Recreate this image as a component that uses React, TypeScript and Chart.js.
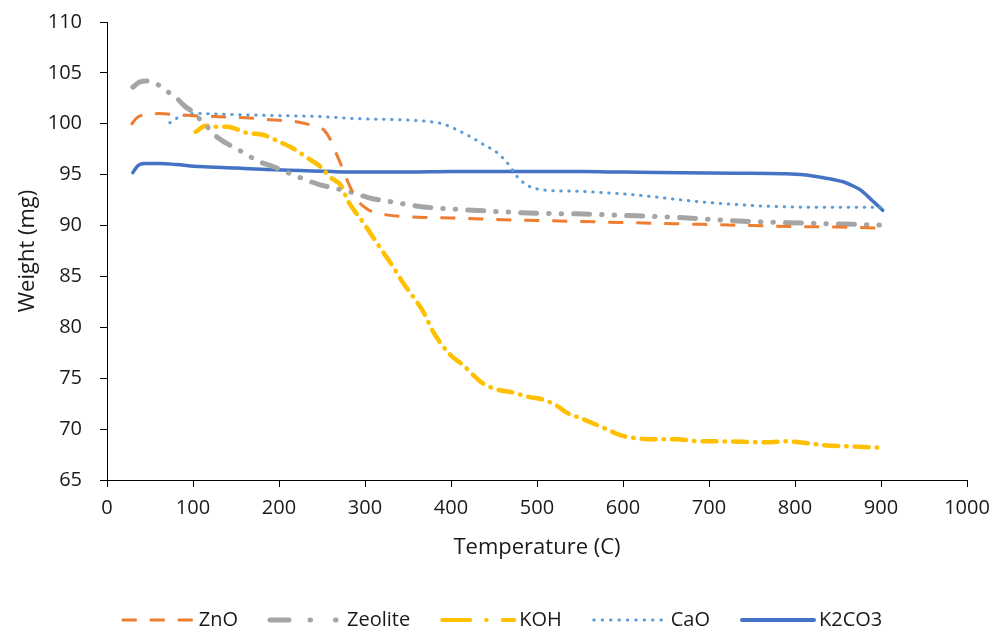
import { useEffect, useRef } from "react";
import { Chart, registerables } from "chart.js";

Chart.register(...registerables);

// ---- data ----
const SERIES_NAMES = ["ZnO", "Zeolite", "KOH", "CaO", "K2CO3"];

const ZNO_T = [28, 35, 45, 60, 80, 100, 130, 160, 190, 220, 240, 252, 260, 267, 273, 279, 285, 291, 298, 305, 314, 325, 344, 370, 400, 450, 500, 550, 600, 650, 700, 750, 800, 850, 900];
const ZNO_W = [99.9, 100.6, 100.9, 101.0, 100.9, 100.8, 100.7, 100.6, 100.4, 100.2, 99.8, 99.4, 98.4, 97.0, 95.8, 94.5, 93.4, 92.5, 91.9, 91.5, 91.25, 91.05, 90.9, 90.8, 90.75, 90.6, 90.5, 90.4, 90.3, 90.2, 90.1, 90.0, 89.9, 89.85, 89.75];

const ZEO_T = [30, 38, 45, 58, 73, 81, 91, 99, 112, 128, 147, 158, 174, 193, 216, 248, 263, 283, 306, 333, 372, 407, 460, 500, 547, 600, 663, 733, 806, 879, 900];
const ZEO_W = [103.6, 104.1, 104.2, 103.9, 103.0, 102.5, 101.7, 101.2, 100.1, 98.7, 97.7, 97.2, 96.4, 95.8, 95.0, 94.0, 93.7, 93.3, 92.7, 92.3, 91.8, 91.6, 91.35, 91.2, 91.15, 91.0, 90.8, 90.45, 90.25, 90.1, 90.05];

const KOH_T = [103, 115, 124, 140, 163, 182, 201, 216, 232, 248, 259, 274, 279, 290, 298, 309, 321, 333, 344, 356, 368, 379, 399, 414, 426, 437, 453, 472, 488, 507, 523, 535, 550, 570, 581, 597, 616, 640, 663, 690, 709, 740, 767, 791, 815, 837, 864, 895, 900];
const KOH_W = [99.2, 99.8, 99.7, 99.7, 99.1, 98.9, 98.2, 97.6, 96.7, 95.8, 94.8, 93.7, 92.6, 91.2, 90.3, 88.9, 87.4, 85.9, 84.4, 83.0, 81.5, 79.6, 77.3, 76.3, 75.3, 74.5, 73.9, 73.6, 73.2, 72.9, 72.3, 71.6, 71.1, 70.4, 70.0, 69.4, 69.1, 69.0, 69.0, 68.8, 68.8, 68.75, 68.7, 68.8, 68.6, 68.4, 68.3, 68.2, 68.2];

const CAO_T = [73, 80, 93, 110, 150, 200, 250, 291, 340, 376, 390, 399, 407, 419, 437, 453, 465, 477, 488, 500, 515, 553, 616, 670, 709, 767, 826, 900];
const CAO_W = [100.1, 100.5, 100.9, 101.0, 100.9, 100.8, 100.7, 100.5, 100.4, 100.2, 100.0, 99.7, 99.4, 98.9, 98.0, 97.2, 96.2, 94.8, 94.0, 93.6, 93.45, 93.35, 93.0, 92.5, 92.2, 91.9, 91.8, 91.8];

const K2CO3_T = [30, 34, 38, 45, 62, 80, 108, 150, 186, 225, 263, 300, 350, 400, 450, 500, 553, 600, 670, 730, 786, 810, 826, 843, 856, 866, 876, 888, 902];
const K2CO3_W = [95.2, 95.7, 96.0, 96.1, 96.1, 96.0, 95.8, 95.65, 95.5, 95.4, 95.3, 95.25, 95.25, 95.3, 95.3, 95.3, 95.3, 95.25, 95.2, 95.15, 95.1, 95.0, 94.8, 94.55, 94.3, 93.95, 93.5, 92.6, 91.5];

const X_MIN = 0, X_MAX = 1000, X_STEP = 100;
const Y_MIN = 65, Y_MAX = 110, Y_STEP = 5;
const X_TITLE = "Temperature (C)";
const Y_TITLE = "Weight (mg)";

// ---- styles ----
const COLORS = ["#ED7D31", "#A5A5A5", "#FFC000", "#5B9BD5", "#4472C4"];
const WIDTHS = [3, 5, 4.5, 3, 3.5];
const DASHES = [[15, 13], [16, 12, 0.5, 12, 0.5, 12], [14, 8, 0.5, 8], [0.5, 7.5], []];
const CAPS = ["butt", "round", "round", "round", "round"];
const LEGEND_WIDTHS = [3, 5, 4, 3, 4];
const LEGEND_DASHES = [[15, 13], [19, 21, 0.5, 25, 0.5, 30], [28, 16, 0.5, 16], [0.5, 7.9], []];
const FONT = "'Open Sans', 'Noto Sans', sans-serif";
const TEXT = "#1a1a1a";
const LEGEND_CX = 502, LEGEND_Y = 620, SAMPLE_W = 72, SAMPLE_GAP = 5, ITEM_GAP = 32;

const pts = (t: number[], w: number[]) => t.map((x, i) => ({ x, y: w[i] }));
const SERIES = [pts(ZNO_T, ZNO_W), pts(ZEO_T, ZEO_W), pts(KOH_T, KOH_W), pts(CAO_T, CAO_W), pts(K2CO3_T, K2CO3_W)];

const lineLegend = {
  id: "lineLegend",
  afterDraw(chart: any) {
    const ctx = chart.ctx as CanvasRenderingContext2D;
    ctx.save();
    ctx.font = `20px ${FONT}`;
    const labels = chart.data.datasets.map((d: any) => d.label as string);
    const tw = labels.map((l: string) => ctx.measureText(l).width);
    const total = tw.reduce((a: number, w: number) => a + SAMPLE_W + SAMPLE_GAP + w, 0) + ITEM_GAP * (labels.length - 1);
    let x = LEGEND_CX - total / 2;
    labels.forEach((label: string, i: number) => {
      ctx.beginPath();
      ctx.setLineDash(LEGEND_DASHES[i]);
      ctx.lineCap = CAPS[i] as CanvasLineCap;
      ctx.lineWidth = LEGEND_WIDTHS[i];
      ctx.strokeStyle = COLORS[i];
      ctx.moveTo(x, LEGEND_Y);
      ctx.lineTo(x + SAMPLE_W, LEGEND_Y);
      ctx.stroke();
      ctx.setLineDash([]);
      ctx.fillStyle = TEXT;
      ctx.textBaseline = "middle";
      ctx.textAlign = "left";
      ctx.fillText(label, x + SAMPLE_W + SAMPLE_GAP, LEGEND_Y);
      x += SAMPLE_W + SAMPLE_GAP + tw[i] + ITEM_GAP;
    });
    ctx.restore();
  },
};

export default function App() {
  const ref = useRef<HTMLCanvasElement | null>(null);
  useEffect(() => {
    document.body.style.margin = "0";
    const canvas = ref.current;
    if (!canvas) return;
    const chart = new Chart(canvas, {
      type: "scatter",
      data: {
        datasets: SERIES.map((data, i) => ({
          label: SERIES_NAMES[i],
          data,
          showLine: true,
          borderColor: COLORS[i],
          backgroundColor: COLORS[i],
          borderWidth: WIDTHS[i],
          borderDash: DASHES[i],
          borderCapStyle: CAPS[i] as any,
          borderJoinStyle: "round" as any,
          pointRadius: 0,
          pointHoverRadius: 0,
          cubicInterpolationMode: "monotone" as any,
        })),
      },
      options: {
        responsive: false,
        animation: false,
        events: [],
        layout: { padding: { top: 22, right: 28, bottom: 0, left: 0 } },
        plugins: {
          tooltip: { enabled: false },
          legend: { display: false },
        },
        scales: {
          x: {
            type: "linear",
            min: X_MIN,
            max: X_MAX,
            afterFit: (s: any) => { s.height = 150; s.paddingLeft = 0; s.paddingRight = 0; },
            ticks: { stepSize: X_STEP, color: TEXT, padding: 9, font: { family: FONT, size: 20 }, callback: (v: any) => String(v) },
            grid: { drawOnChartArea: false, drawTicks: true, tickLength: 7, color: "#000" },
            border: { display: true, color: "#000", width: 1 },
            title: { display: true, text: X_TITLE, color: TEXT, font: { family: FONT, size: 22 }, padding: { top: 0, bottom: 69 } },
          },
          y: {
            type: "linear",
            min: Y_MIN,
            max: Y_MAX,
            afterFit: (s: any) => { s.width = 107; s.paddingTop = 0; s.paddingBottom = 0; },
            ticks: { stepSize: Y_STEP, color: TEXT, padding: 18, font: { family: FONT, size: 20 } },
            grid: { drawOnChartArea: false, drawTicks: true, tickLength: 7, color: "#000" },
            border: { display: true, color: "#000", width: 1 },
            title: { display: true, text: Y_TITLE, color: TEXT, font: { family: FONT, size: 22 }, padding: { top: 15, bottom: 0 } },
          },
        },
      },
      plugins: [lineLegend],
    });
    return () => chart.destroy();
  }, []);
  return (
    <div style={{ width: 995, height: 630, background: "#fff" }}>
      <canvas ref={ref} width={995} height={630} style={{ display: "block" }} />
    </div>
  );
}
